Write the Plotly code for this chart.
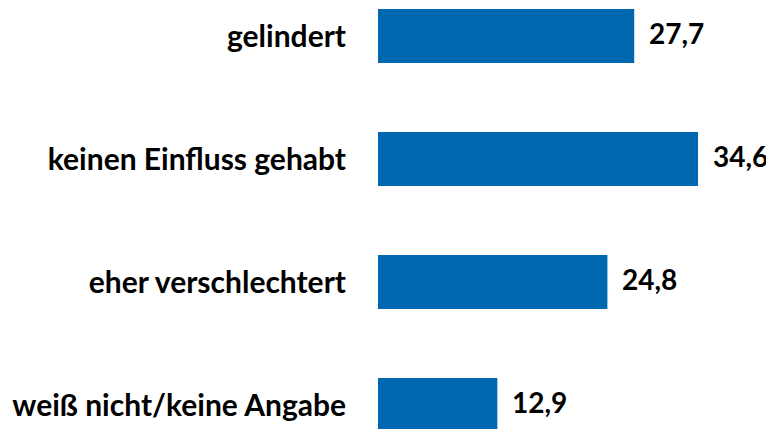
import plotly.graph_objects as go

categories = ["gelindert", "keinen Einfluss gehabt", "eher verschlechtert", "weiß nicht/keine Angabe"]
values = [27.7, 34.6, 24.8, 12.9]
value_labels = ["27,7", "34,6", "24,8", "12,9"]

bar_color = "#0068B1"
font_family = "Lato"

fig = go.Figure()
fig.add_trace(go.Bar(
    y=categories,
    x=values,
    orientation="h",
    marker=dict(color=bar_color, line=dict(width=0)),
    hoverinfo="skip",
))

for cat, v, lab in zip(categories, values, value_labels):
    fig.add_annotation(
        x=v, y=cat, text=lab, showarrow=False,
        xanchor="left", yanchor="middle", xshift=13, yshift=3,
        font=dict(family=font_family, size=28, color="black", weight="bold"),
    )

fig.update_layout(
    width=774, height=429,
    margin=dict(l=370, r=0, t=0, b=0),
    paper_bgcolor="white", plot_bgcolor="white",
    showlegend=False,
    bargap=0.56,
    xaxis=dict(range=[0, (774 - 370) / 9.25], visible=False, fixedrange=True),
    yaxis=dict(
        type="category",
        range=[3.260, -0.2276],
        showgrid=False, zeroline=False, showline=False,
        ticks="outside", ticklen=25, tickcolor="white",
        tickfont=dict(family=font_family, size=30, color="black", weight="bold"),
    ),
)

fig.write_html("out.html")
